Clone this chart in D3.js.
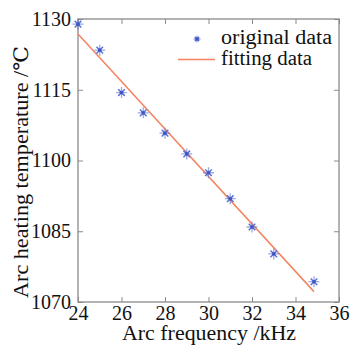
<!DOCTYPE html>
<html><head><meta charset="utf-8">
<script src="https://cdn.jsdelivr.net/npm/d3@7"></script>
<style>body{margin:0;background:#fff}svg{display:block}text{font-family:"Liberation Serif","DejaVu Serif",serif;fill:#111}</style>
</head><body>
<script>
const freq = [24.0, 25.0, 26.0, 27.0, 28.0, 29.0, 30.0, 31.0, 32.0, 33.0, 34.85];
const temp = [1128.9, 1123.4, 1114.4, 1110.1, 1105.8, 1101.4, 1097.4, 1091.9, 1085.9, 1080.2, 1074.3];
const fitX = [24.0, 34.85];
const fitY = [1126.8, 1072.2];
const xTicks = [24, 26, 28, 30, 32, 34, 36];
const yTicks = [1070, 1085, 1100, 1115, 1130];
const legendLabels = ["original data", "fitting data"];

const W = 352, H = 346;
const m = {l: 78, r: 13, t: 19, b: 44};
const svg = d3.select("body").append("svg").attr("width", W).attr("height", H);
const x = d3.scaleLinear().domain([24, 36]).range([m.l, W - m.r]);
const y = d3.scaleLinear().domain([1070, 1130]).range([H - m.b, m.t]);
const blue = "#5a72d6", orange = "#f4845f", axc = "#8a8a8a";
const fmt = d3.format("d");

const g = svg.append("g");
function styleAxis(sel, hideText) {
  sel.select(".domain").remove();
  sel.selectAll(".tick line").attr("stroke", axc);
  sel.selectAll(".tick text").style("font-size", "20px").attr("fill", "#111");
  if (hideText) sel.selectAll(".tick text").remove();
}
g.append("g").attr("transform", `translate(0,${y(1070)})`)
  .call(d3.axisBottom(x).tickValues(xTicks).tickFormat(fmt).tickSizeInner(-5).tickPadding(4))
  .call(s => styleAxis(s, false));
g.append("g").attr("transform", `translate(0,${y(1130)})`)
  .call(d3.axisTop(x).tickValues(xTicks).tickFormat(fmt).tickSizeInner(-5))
  .call(s => styleAxis(s, true));
g.append("g").attr("transform", `translate(${x(24)},0)`)
  .call(d3.axisLeft(y).tickValues(yTicks).tickFormat(fmt).tickSizeInner(-5).tickPadding(7))
  .call(s => styleAxis(s, false));
g.append("g").attr("transform", `translate(${x(36)},0)`)
  .call(d3.axisRight(y).tickValues(yTicks).tickFormat(fmt).tickSizeInner(-5))
  .call(s => styleAxis(s, true));
svg.append("rect").attr("x", x(24)).attr("y", y(1130)).attr("width", x(36) - x(24)).attr("height", y(1070) - y(1130))
  .attr("fill", "none").attr("stroke", axc).attr("stroke-width", 1.3);

// fit line
svg.append("path").datum(fitX.map((d, i) => [d, fitY[i]]))
  .attr("d", d3.line().x(d => x(d[0])).y(d => y(d[1])))
  .attr("stroke", orange).attr("stroke-width", 1.5).attr("fill", "none");

function star(sel, cx, cy, r) {
  const gg = sel.append("g").attr("transform", `translate(${cx},${cy})`)
    .attr("stroke", blue).attr("stroke-width", 1.3).attr("fill", "none");
  gg.append("path").attr("d", `M${-r},0H${r}M0,${-r}V${r}`).attr("stroke-opacity", 0.6);
  const k = r * 0.6;
  gg.append("path").attr("d", `M${-k},${-k}L${k},${k}M${-k},${k}L${k},${-k}`).attr("stroke-width", 1.5);
  gg.append("circle").attr("r", 1.8).attr("fill", "#3f55c0").attr("stroke", "none");
}
freq.forEach((f, i) => star(svg, x(f), y(temp[i]), 5.5));

// legend
star(svg, 197, 39, 3.5);
svg.append("line").attr("x1", 178).attr("x2", 215).attr("y1", 59.5).attr("y2", 59.5)
  .attr("stroke", orange).attr("stroke-width", 1.5);
svg.selectAll(".lg").data(legendLabels).enter().append("text")
  .attr("x", 221).attr("y", (d, i) => 44 + i * 21).style("font-size", "20px")
  .attr("textLength", (d, i) => i === 0 ? 111 : 91).attr("lengthAdjust", "spacingAndGlyphs").text(d => d);

// axis titles
svg.append("text").attr("x", 122).attr("y", 340)
  .style("font-size", "20px").attr("textLength", 174).attr("lengthAdjust", "spacingAndGlyphs").text("Arc frequency /kHz");
svg.append("text").attr("transform", `translate(28,298) rotate(-90)`)
  .style("font-size", "20px").attr("textLength", 252).attr("lengthAdjust", "spacingAndGlyphs").text("Arc heating temperature /℃");
</script>
</body></html>
